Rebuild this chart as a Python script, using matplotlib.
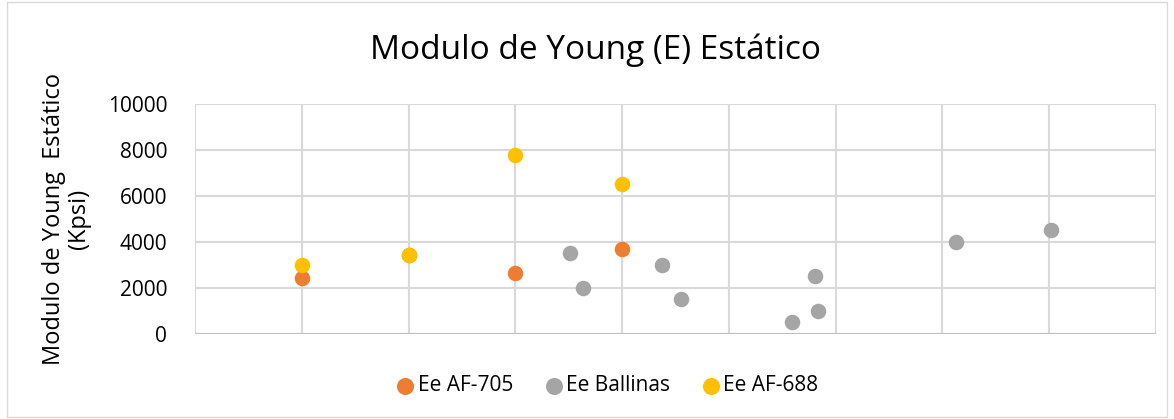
import numpy as np
import matplotlib.pyplot as plt
from matplotlib.patches import Rectangle

# series data
af705_x = [1, 2, 3, 4]
af705_y = [2450, 3450, 2650, 3700]
ballinas_x = [3.51, 3.63, 4.37, 4.55, 5.59, 5.83, 5.81, 7.13, 8.02]
ballinas_y = [3500, 2000, 3000, 1500, 500, 1000, 2500, 4000, 4500]
af688_x = [1, 2, 3, 4]
af688_y = [3000, 3450, 7780, 6520]
yticks = [0, 2000, 4000, 6000, 8000, 10000]

plt.rcParams['font.family'] = ['Open Sans', 'DejaVu Sans']

fig = plt.figure(figsize=(11.74, 4.19), dpi=100)
ax = fig.add_axes([0.1661, 0.2029, 0.9847 - 0.1661, 0.7518 - 0.2029])

ax.scatter(af705_x, af705_y, s=125, color='#ED7D31', label='Ee AF-705', zorder=3, linewidths=0)
ax.scatter(ballinas_x, ballinas_y, s=125, color='#A5A5A5', label='Ee Ballinas', zorder=3, linewidths=0)
ax.scatter(af688_x, af688_y, s=125, color='#FFC000', label='Ee AF-688', zorder=3, linewidths=0)

ax.set_xlim(0, 9)
ax.set_ylim(0, 10000)
ax.set_xticks(np.arange(0, 10))
ax.set_xticklabels([])
ax.set_yticks(yticks)
ax.set_yticklabels([str(v) for v in yticks], fontsize=15)
ax.tick_params(length=0, pad=20)
ax.grid(True, color='#d9d9d9', linewidth=1.5)
ax.set_axisbelow(True)
for s in ax.spines.values():
    s.set_visible(False)
ax.axhline(0, color='#bfbfbf', linewidth=1.5, zorder=2)

ax.set_ylabel('Modulo de Young  Estático\n(Kpsi)', fontsize=17, labelpad=12, linespacing=1.05)
fig.text(0.507, 0.88, 'Modulo de Young (E) Estático', ha='center', va='center', fontsize=24)

fig.legend(loc='center', bbox_to_anchor=(0.517, 0.08), ncol=3, frameon=False,
           fontsize=15, handlelength=0.9, handletextpad=0.15, columnspacing=1.5,
           markerscale=1.1)

fig.patches.append(Rectangle((0.006, 0.005), 0.988, 0.99, transform=fig.transFigure,
                             fill=False, edgecolor='#d9d9d9', linewidth=1))

fig.savefig('out.png', dpi=100)
